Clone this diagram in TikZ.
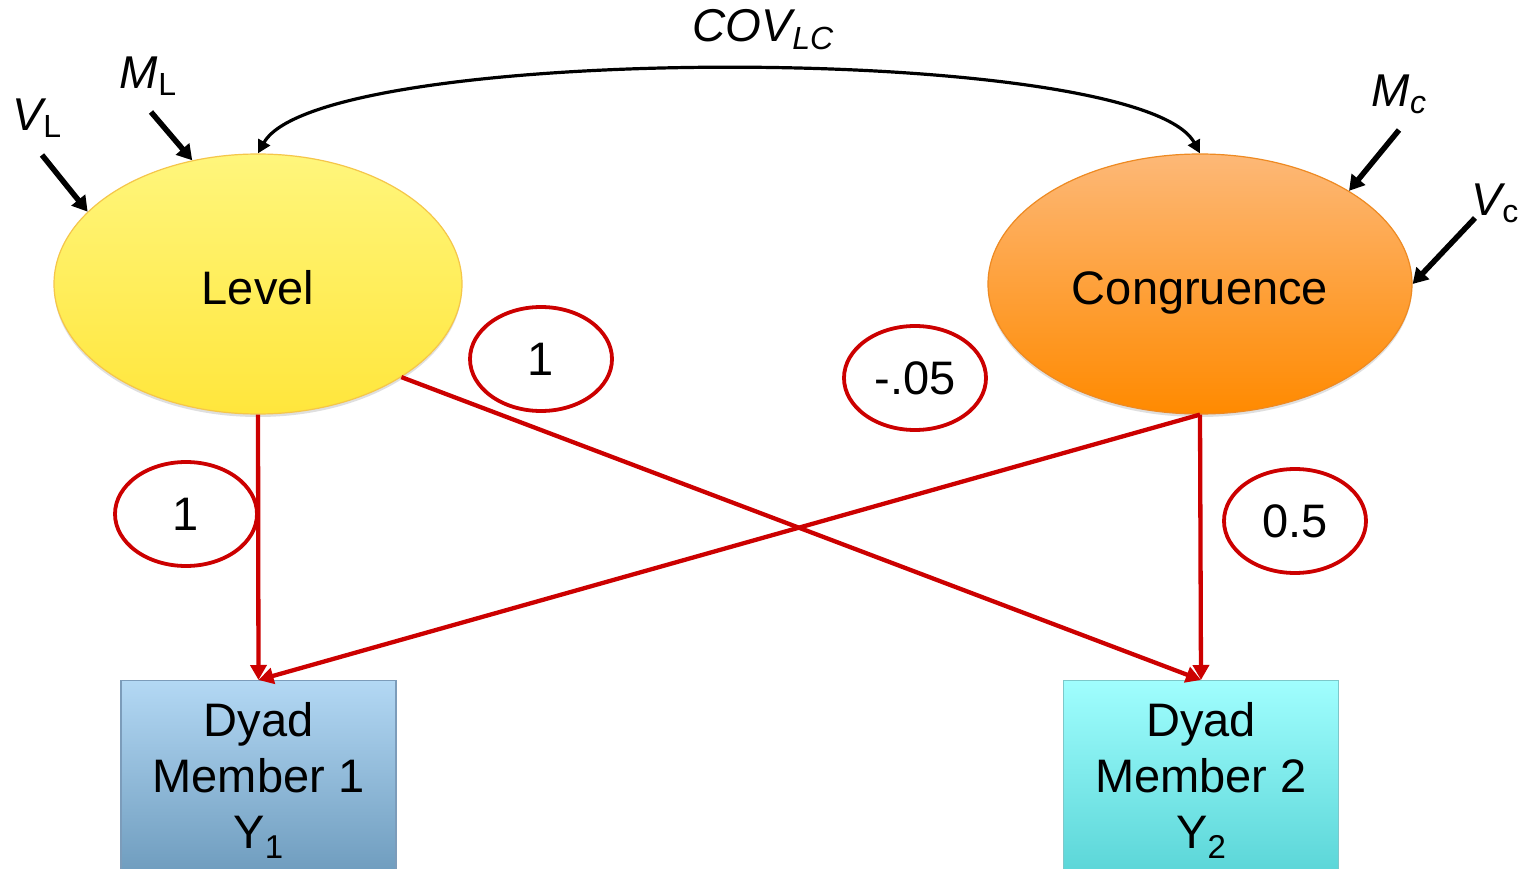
\documentclass[tikz,border=0pt]{standalone}
\usepackage{fontspec}
\setmainfont{Liberation Sans}
\usetikzlibrary{arrows.meta,shapes.geometric,shadows}
\definecolor{pathred}{HTML}{CC0000}
\definecolor{lvtop}{HTML}{FFF67C}
\definecolor{lvbot}{HTML}{FFE63C}
\definecolor{lvdraw}{HTML}{F5C64A}
\definecolor{cgtop}{HTML}{FDB877}
\definecolor{cgbot}{HTML}{FF8A00}
\definecolor{cgdraw}{HTML}{EE8A22}
\definecolor{b1top}{HTML}{B3D8F4}
\definecolor{b1bot}{HTML}{6C9ABC}
\definecolor{b1draw}{HTML}{7C9CBA}
\definecolor{b2top}{HTML}{A0FEFE}
\definecolor{b2bot}{HTML}{58D4D6}
\definecolor{b2draw}{HTML}{7CC8CA}
\tikzset{
  bigfont/.style={font=\fontsize{47}{56}\selectfont},
  latent/.style={ellipse, inner sep=0, minimum width=#1, minimum height=260,
     line width=1.2pt, bigfont, text height=44pt, text depth=2pt,
     drop shadow={opacity=0.25, shadow xshift=0pt, shadow yshift=-3pt}},
  obsbox/.style={rectangle, inner sep=0, minimum width=275, minimum height=200,
     line width=1.2pt, align=center, bigfont, anchor=north,
     drop shadow={opacity=0.25, shadow xshift=0pt, shadow yshift=-3pt}},
  coef/.style={ellipse, draw=pathred, line width=3.8pt, fill=white,
     minimum width=142, minimum height=104, inner sep=0, bigfont},
  pathline/.style={draw=pathred, line width=4.3pt, -{Triangle[length=15pt,width=16pt]}},
  fixarrow/.style={draw=black, line width=5.5pt, -{Triangle[length=15pt,width=17pt]}},
  covarc/.style={draw=black, line width=3.2pt, {Triangle[length=13pt,width=13pt]}-{Triangle[length=13pt,width=13pt]}},
  label/.style={inner sep=0, font=\fontsize{46}{46}\selectfont\itshape}
}
\newcommand{\mysub}[2]{\raisebox{#1}{\fontsize{32}{32}\selectfont #2}}
\begin{document}
\begin{tikzpicture}[x=1pt,y=-1pt]
\clip (0,0) rectangle (1519,869);
\fill[white] (0,0) rectangle (1519,869);

% latent variables
\node[latent=408, top color=lvtop, bottom color=lvbot, draw=lvdraw] (level) at (258,284) {Level};
\node[latent=424, top color=cgtop, bottom color=cgbot, draw=cgdraw] (cong) at (1200,284) {Congruence};

% observed variables
\node[obsbox, top color=b1top, bottom color=b1bot, draw=b1draw] (y1) at (258.5,680)
  {Dyad\\Member 1\\Y\raisebox{-10pt}{\fontsize{33}{33}\selectfont 1}};
\node[obsbox, top color=b2top, bottom color=b2bot, draw=b2draw] (y2) at (1201,680)
  {Dyad\\Member 2\\Y\raisebox{-10pt}{\fontsize{33}{33}\selectfont 2}};

% paths
\draw[pathline] (level.south) -- (y1.north);
\draw[pathline] (level.-33) -- (y2.north);
\draw[pathline] (cong.south) -- (y2.north);
\draw[pathline] (cong.south) -- (y1.north);

% coefficient labels
\node[coef] (c1) at (541,359) {1};
\node[coef] (c2) at (915,378) {-.05};
\node[coef] (c3) at (186,514) {1};
\node[coef] (c4) at (1295,521) {0.5};

% covariance
\draw[covarc] (level.north) .. controls (320,42) and (1140,42) .. (cong.north);
\node[label] (cov) at (763,30) {COV\mysub{-8pt}{LC}};

% means and variances
\node[label] (ml) at (148,76) {M\mysub{-7pt}{\upshape L}};
\node[label] (vl) at (37,118) {V\mysub{-7pt}{\upshape L}};
\node[label] (mc) at (1399,94) {M\mysub{-7pt}{c}};
\node[label] (vc) at (1495,203) {V\mysub{-7pt}{\upshape c}};

\coordinate (mls) at (151,112);
\coordinate (vls) at (42,155);
\coordinate (mcs) at (1399,130);
\coordinate (vcs) at (1475,218);
\draw[fixarrow] (mls) -- (level.118);
\draw[fixarrow] (vls) -- (level.157);
\draw[fixarrow] (mcs) -- (cong.32);
\draw[fixarrow] (vcs) -- (cong.east);
\end{tikzpicture}
\end{document}
